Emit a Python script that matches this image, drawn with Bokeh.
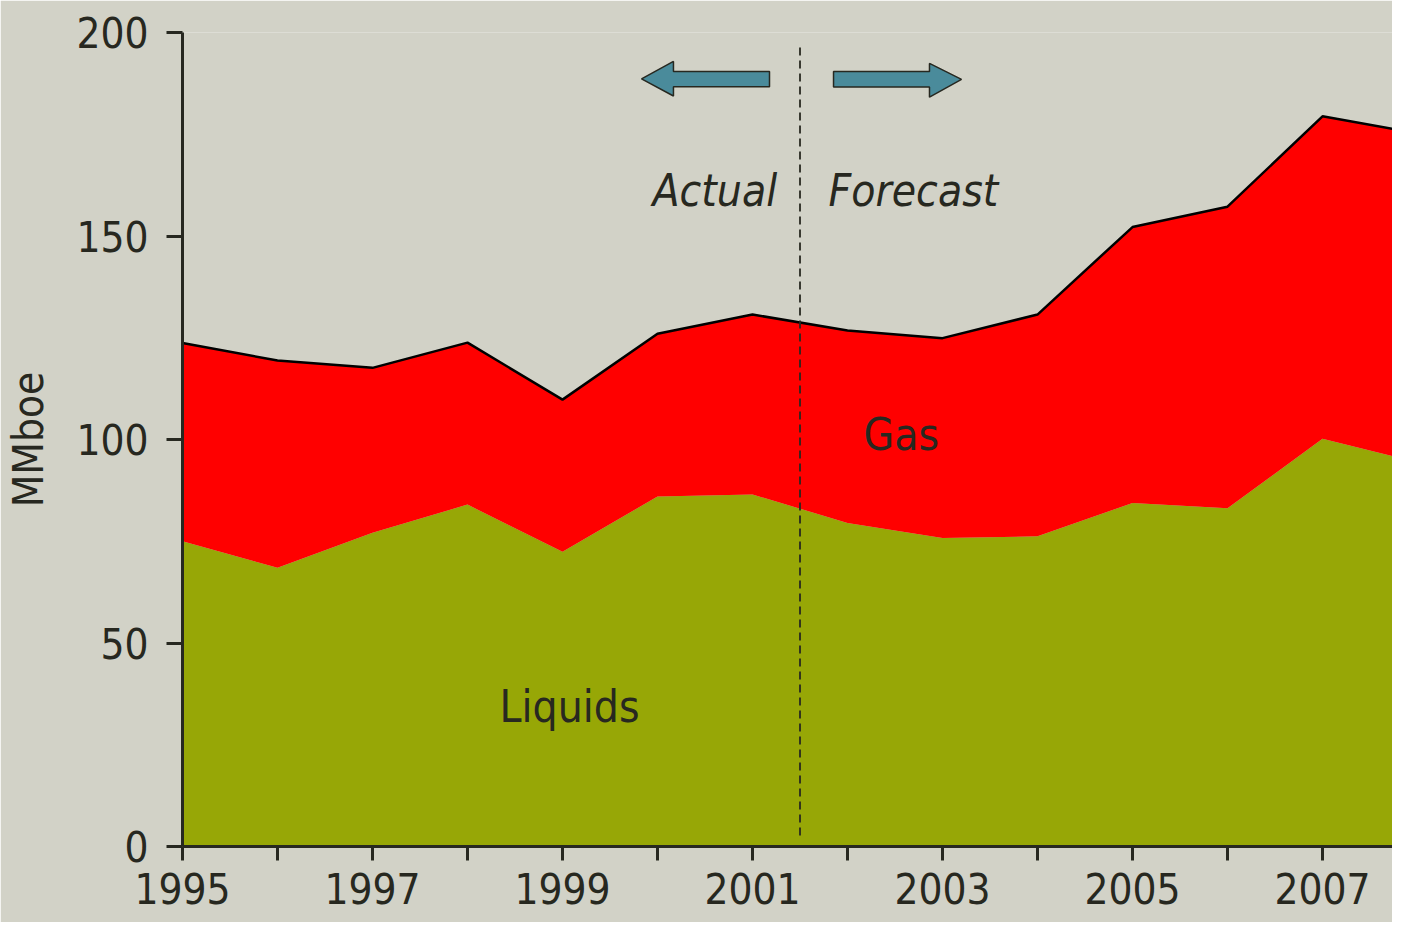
import numpy as np
from bokeh.plotting import figure
from bokeh.models import FixedTicker, Range1d, ColumnDataSource
from bokeh.core.properties import value
from bokeh.embed import file_html
from bokeh.resources import INLINE

# ---- data ----
years = [1995, 1996, 1997, 1998, 1999, 2000, 2001, 2002, 2003, 2004, 2005, 2006, 2007, 2008]
liquids = [75.0, 68.5, 77.1, 84.0, 72.4, 86.0, 86.5, 79.5, 75.8, 76.2, 84.4, 83.1, 100.2, 94.4]
gas = [48.7, 50.9, 40.5, 39.8, 37.4, 40.0, 44.2, 47.3, 49.1, 54.5, 67.8, 74.1, 79.2, 80.8]
y_ticks = [0, 50, 100, 150, 200]
x_ticks = list(range(1995, 2008))
x_tick_labels = {y: (str(y) if y % 2 == 1 else "") for y in x_ticks}
split_year = 2001.5

FONT = "'Liberation Sans Narrow', 'DejaVu Sans Condensed', 'Liberation Sans', sans-serif"
FS = "42px"      # axis texts
FS_IN = "44px"   # texts inside the plot
BG = "#D2D2C7"
DARK = "#272820"

total = [l + g for l, g in zip(liquids, gas)]
src = ColumnDataSource(dict(x=years, liq=liquids, tot=total, zero=[0] * len(years)))

p = figure(width=1392, height=922, output_backend="svg", toolbar_location=None,
           x_range=Range1d(1995, 1995 + 1210 / 95), y_range=Range1d(0, 200),
           min_border_left=182, min_border_right=0, min_border_top=32, min_border_bottom=76)
p.background_fill_color = BG
p.border_fill_color = BG
p.outline_line_color = None
p.xgrid.visible = False
p.ygrid.visible = False

p.varea(x="x", y1="zero", y2="liq", source=src, fill_color="#97A706")
p.varea(x="x", y1="liq", y2="tot", source=src, fill_color="#FF0000")
p.line(x="x", y="tot", source=src, line_color="black", line_width=2.5)

# divider
p.line([split_year, split_year], [2.7, 197.3], line_color=DARK, line_width=1.8, line_dash="8 5")

# arrows
p.patch([1999.832, 2000.168, 2000.168, 2001.179, 2001.179, 2000.168, 2000.168],
        [188.6, 192.9, 190.4, 190.4, 186.7, 186.7, 184.4],
        fill_color="#4A8B9B", line_color=DARK, line_width=1.5)
p.patch([2001.853, 2002.863, 2002.863, 2003.2, 2002.863, 2002.863, 2001.853],
        [190.4, 190.4, 192.4, 188.5, 184.1, 186.6, 186.6],
        fill_color="#4A8B9B", line_color=DARK, line_width=1.5)

# labels
p.text([1999.947], [161.2], text=["Actual"], text_font=value(FONT), text_font_size=FS_IN,
       text_font_style="italic", text_color=DARK, text_baseline="alphabetic", text_align="left")
p.text([2001.8], [161.2], text=["Forecast"], text_font=value(FONT), text_font_size=FS_IN,
       text_font_style="italic", text_color=DARK, text_baseline="alphabetic", text_align="left")
p.text([2002.168], [101.2], text=["Gas"], text_font=value(FONT), text_font_size=FS_IN,
       text_color=DARK, text_baseline="alphabetic", text_align="left")
p.text([1998.337], [34.4], text=["Liquids"], text_font=value(FONT), text_font_size=FS_IN,
       text_color=DARK, text_baseline="alphabetic", text_align="left")

# axes
for ax in (p.xaxis[0], p.yaxis[0]):
    ax.axis_line_color = DARK
    ax.axis_line_width = 3
    ax.major_tick_line_color = DARK
    ax.major_tick_line_width = 3
    ax.major_tick_in = 0
    ax.minor_tick_line_color = None
    ax.major_label_text_font = FONT
    ax.major_label_text_font_size = FS
    ax.major_label_text_color = DARK

p.yaxis.ticker = FixedTicker(ticks=y_ticks)
p.yaxis.major_tick_out = 16
p.yaxis.major_label_standoff = 18
p.yaxis.axis_label = "MMboe"
p.yaxis.axis_label_text_font = FONT
p.yaxis.axis_label_text_font_size = FS
p.yaxis.axis_label_text_font_style = "normal"
p.yaxis.axis_label_text_color = DARK
p.yaxis.axis_label_standoff = 20

p.xaxis.ticker = FixedTicker(ticks=x_ticks)
p.xaxis.major_label_overrides = x_tick_labels
p.xaxis.major_tick_out = 14
p.xaxis.major_label_standoff = 12

open("out.html", "w").write(file_html(p, INLINE))
